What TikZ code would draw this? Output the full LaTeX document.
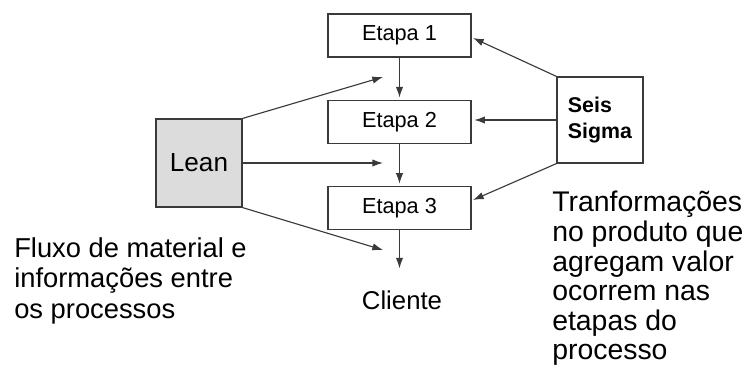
\documentclass[tikz,border=0pt]{standalone}
\usepackage{fontspec}
\setmainfont{Liberation Sans}
\usetikzlibrary{positioning, arrows.meta}
\definecolor{linegray}{HTML}{3A3A3A}
\definecolor{leanfill}{HTML}{DCDCDC}

\begin{document}
\begin{tikzpicture}[
    x=0.75pt, y=-0.75pt,
    node distance=31.5pt,
    etapa/.style={draw=linegray, line width=0.9pt, minimum width=107.25pt, minimum height=32.25pt, font=\fontsize{16.3}{19}\selectfont},
    lean/.style={draw=linegray, line width=0.9pt, fill=leanfill, minimum width=64.5pt, minimum height=66pt, font=\fontsize{19.6}{23}\selectfont},
    sigma/.style={draw=linegray, line width=0.9pt, minimum size=64.5pt, align=left, font=\fontsize{16}{19.5}\selectfont\bfseries},
    txt/.style={align=left, inner sep=0pt, font=\fontsize{20.5}{23}\selectfont},
    arrow/.style={-{Latex[length=8pt,width=5.5pt]}, draw=linegray, line width=0.85pt}
]
\useasboundingbox (0,0) rectangle (746,374);

% process steps
\node[etapa] (e1) at (399.5,35.5) {Etapa 1};
\node[etapa, below=of e1] (e2) {Etapa 2};
\node[etapa, below=of e2] (e3) {Etapa 3};
\node[font=\fontsize{19.3}{23}\selectfont] (cliente) at (402,300) {Cliente};

\draw[arrow, shorten >=1.5pt] (e1) -- (e2);
\draw[arrow, shorten >=1.5pt] (e2) -- (e3);
\draw[arrow, shorten >=13pt] (e3) -- (e3 |- cliente.north);

% Lean
\node[lean] (lean) at (199,163) {Lean};
\coordinate (l1) at (383,77);
\coordinate (l2) at (383,163);
\coordinate (l3) at (383,250);
\draw[arrow] (lean.north east) -- (l1);
\draw[arrow] (lean.east) -- (l2);
\draw[arrow] (lean.south east) -- (l3);

% Seis Sigma
\node[sigma] (sigma) at (600,120) {Seis\\Sigma};
\coordinate (s1) at (473,38);
\coordinate (s3) at (473,200);
\draw[arrow] (sigma.north west) -- (s1);
\draw[arrow, shorten >=2pt] (sigma.west) -- (sigma.west -| e2.east);
\draw[arrow] (sigma.south west) -- (s3);

% texts
\node[txt, anchor=north west] (fluxo) at (14,237) {Fluxo de material e\\informações entre\\os processos};
\node[txt, anchor=north west, font=\fontsize{21.3}{22.2}\selectfont] (transf) at (552,191) {Tranformações\\no produto que\\agregam valor\\ocorrem nas\\etapas do\\processo};

\end{tikzpicture}
\end{document}
